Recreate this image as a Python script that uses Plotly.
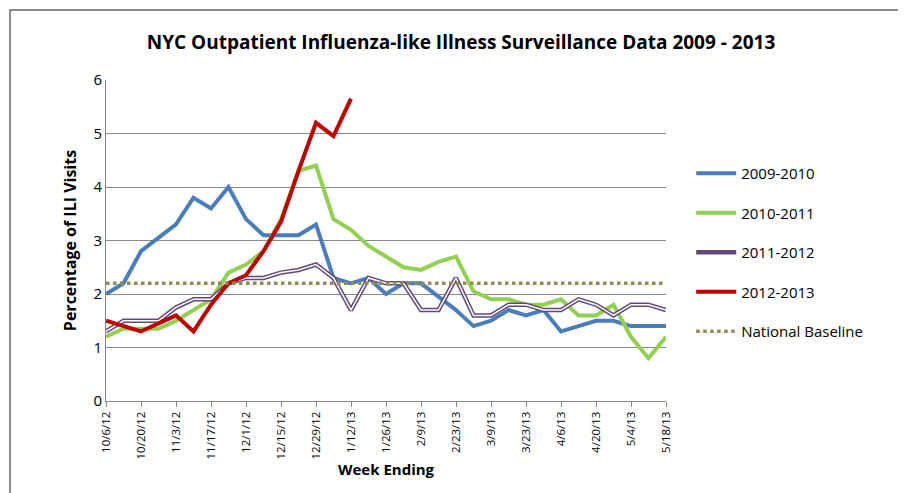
import plotly.graph_objects as go

weeks = ["10/6/12", "10/13/12", "10/20/12", "10/27/12", "11/3/12", "11/10/12", "11/17/12", "11/24/12",
         "12/1/12", "12/8/12", "12/15/12", "12/22/12", "12/29/12", "1/5/13", "1/12/13", "1/19/13",
         "1/26/13", "2/2/13", "2/9/13", "2/16/13", "2/23/13", "3/2/13", "3/9/13", "3/16/13",
         "3/23/13", "3/30/13", "4/6/13", "4/13/13", "4/20/13", "4/27/13", "5/4/13", "5/11/13", "5/18/13"]

s0910 = [2.0, 2.2, 2.8, 3.05, 3.3, 3.8, 3.6, 4.0, 3.4, 3.1, 3.1, 3.1, 3.3, 2.3, 2.2, 2.3, 2.0,
         2.2, 2.2, 1.95, 1.7, 1.4, 1.5, 1.7, 1.6, 1.7, 1.3, 1.4, 1.5, 1.5, 1.4, 1.4, 1.4]
s1011 = [1.2, 1.35, 1.35, 1.35, 1.5, 1.7, 1.9, 2.4, 2.55, 2.8, 3.4, 4.3, 4.4, 3.4, 3.2, 2.9, 2.7,
         2.5, 2.45, 2.6, 2.7, 2.05, 1.9, 1.9, 1.8, 1.8, 1.9, 1.6, 1.6, 1.8, 1.2, 0.8, 1.2]
s1112 = [1.3, 1.5, 1.5, 1.5, 1.75, 1.9, 1.9, 2.2, 2.3, 2.3, 2.4, 2.45, 2.55, 2.3, 1.7, 2.3, 2.2,
         2.2, 1.7, 1.7, 2.3, 1.6, 1.6, 1.8, 1.8, 1.7, 1.7, 1.9, 1.8, 1.6, 1.8, 1.8, 1.7]
s1213 = [1.5, 1.4, 1.3, 1.45, 1.6, 1.3, 1.8, 2.2, 2.35, 2.8, 3.35, 4.3, 5.2, 4.95, 5.65]
baseline = [2.2] * len(weeks)

fig = go.Figure()
fig.add_trace(go.Scatter(x=weeks, y=s0910, mode="lines", name="2009-2010",
                         line=dict(color="#4A7EBB", width=4), legendgroup="a"))
fig.add_trace(go.Scatter(x=weeks, y=s1011, mode="lines", name="2010-2011",
                         line=dict(color="#92D050", width=4), legendgroup="b"))
fig.add_trace(go.Scatter(x=weeks, y=s1112, mode="lines", name="2011-2012",
                         line=dict(color="#604A7B", width=4.5), legendgroup="c"))
fig.add_trace(go.Scatter(x=weeks, y=s1112, mode="lines", showlegend=False, hoverinfo="skip",
                         line=dict(color="white", width=1.5), legendgroup="c"))
fig.add_trace(go.Scatter(x=weeks[:len(s1213)], y=s1213, mode="lines", name="2012-2013",
                         line=dict(color="#C00000", width=4), legendgroup="d"))
fig.add_trace(go.Scatter(x=weeks, y=baseline, mode="lines", name="National Baseline",
                         line=dict(color="#948A54", width=3.5, dash="dot"), legendgroup="e"))

pw, ph = 560, 321
fig.update_layout(
    width=906, height=493,
    margin=dict(l=98, r=248, t=72, b=100, autoexpand=False),
    paper_bgcolor="white", plot_bgcolor="white",
    font=dict(family="Open Sans", size=13, color="black"),
    title=dict(text="<b>NYC Outpatient Influenza-like Illness Surveillance Data 2009 - 2013</b>",
               x=0.5, xref="container", xanchor="center", y=0.93, yanchor="middle",
               font=dict(size=19)),
    xaxis=dict(title=dict(text="<b>Week Ending</b>", font=dict(size=15), standoff=6),
               tickvals=weeks[::2], tickangle=-90, showline=True, linecolor="#888", ticks="outside",
               ticklen=5, tickcolor="#888", showgrid=False, tickfont=dict(size=11.5),
               range=[0, len(weeks) - 1], automargin=False),
    yaxis=dict(title=dict(text="<b>Percentage of ILI Visits</b>", font=dict(size=16), standoff=12),
               range=[0, 6], dtick=1, showgrid=True, gridcolor="#888", gridwidth=1,
               showline=True, linecolor="#888", zeroline=False, tickfont=dict(size=15),
               automargin=False),
    legend=dict(x=1.045, y=0.76, yanchor="top", font=dict(size=15), tracegroupgap=17,
                itemwidth=40),
    shapes=[dict(type="rect", xref="paper", yref="paper", x0=-96 / pw, x1=1 + 246 / pw,
                 y0=-98 / ph, y1=1 + 70 / ph, line=dict(color="#666", width=1.5))],
)
fig.update_xaxes(type="category")
fig.write_html("out.html")
